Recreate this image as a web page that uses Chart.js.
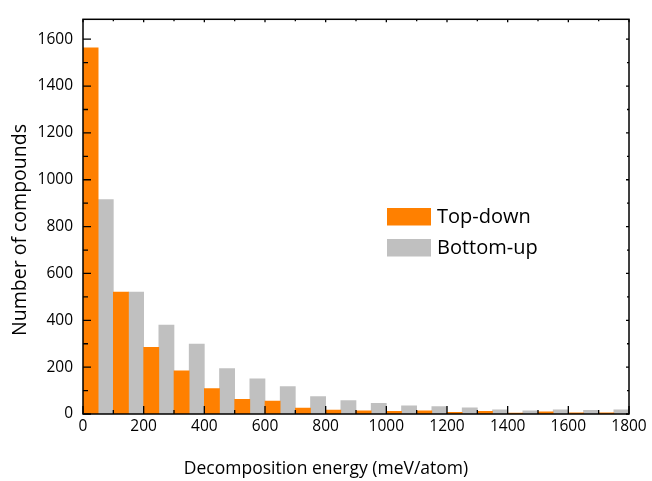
<!DOCTYPE html>
<html>
<head>
<meta charset="utf-8">
<script src="https://cdn.jsdelivr.net/npm/chart.js@4.4.1/dist/chart.umd.min.js"></script>
<style>html,body{margin:0;padding:0;background:#fff}canvas{display:block}</style>
</head>
<body>
<canvas id="chart" width="652" height="481"></canvas>
<script>
// bin centres (meV/atom), 100 meV wide bins
const binCenters=[50,150,250,350,450,550,650,750,850,950,1050,1150,1250,1350,1450,1550,1650,1750];
const topDown=[1563,520,285,184,109,63,55,25,17,14,11,13,7,11,4,9,5,5];
const bottomUp=[915,520,380,298,194,150,117,74,57,46,35,32,26,18,14,18,16,18];
const xTicks=[0,200,400,600,800,1000,1200,1400,1600,1800];
const yTicks=[0,200,400,600,800,1000,1200,1400,1600];
const xTitle='Decomposition energy (meV/atom)';
const yTitle='Number of compounds';
const FONT='"Open Sans", sans-serif';

const frame={id:'frame',afterDatasetsDraw(chart){
  const {ctx,chartArea:a,scales:{x,y}}=chart;
  ctx.save();
  ctx.strokeStyle='#000';ctx.lineWidth=1.5;
  ctx.strokeRect(a.left,a.top,a.right-a.left,a.bottom-a.top);
  ctx.beginPath();
  xTicks.forEach((v,i)=>{
    const px=x.getPixelForValue(v);
    ctx.moveTo(px,a.bottom);ctx.lineTo(px,a.bottom-8);
    ctx.moveTo(px,a.top);ctx.lineTo(px,a.top+3);
    if(i<xTicks.length-1){
      const m=x.getPixelForValue((v+xTicks[i+1])/2);
      ctx.moveTo(m,a.bottom);ctx.lineTo(m,a.bottom-4);
      ctx.moveTo(m,a.top);ctx.lineTo(m,a.top+2);
    }
  });
  yTicks.forEach((v,i)=>{
    const py=y.getPixelForValue(v);
    ctx.moveTo(a.left,py);ctx.lineTo(a.left+8,py);
    ctx.moveTo(a.right,py);ctx.lineTo(a.right-3,py);
    const m=y.getPixelForValue(v+100);
    if(m>a.top){
      ctx.moveTo(a.left,m);ctx.lineTo(a.left+5,m);
      ctx.moveTo(a.right,m);ctx.lineTo(a.right-2,m);
    }
  });
  ctx.lineWidth=1.3;ctx.stroke();
  ctx.restore();
}};

const labels={id:'labels',afterDraw(chart){
  const {ctx}=chart;
  ctx.save();
  ctx.fillStyle='#000';
  ctx.textAlign='center';ctx.textBaseline='middle';
  ctx.font='17.5px '+FONT;
  ctx.fillText(xTitle,chart.width/2,469);
  ctx.font='19.5px '+FONT;
  ctx.translate(20,230);ctx.rotate(-Math.PI/2);
  ctx.fillText(yTitle,0,0);
  ctx.restore();
  // legend
  ctx.save();
  ctx.font='20px '+FONT;ctx.textBaseline='middle';ctx.textAlign='left';
  chart.data.datasets.forEach((ds,i)=>{
    const top=208+i*31;
    ctx.fillStyle=ds.backgroundColor;
    ctx.fillRect(387,top,44,17.5);
    ctx.fillStyle='#000';
    ctx.fillText(ds.label,437,top+9);
  });
  ctx.restore();
}};

const plain=v=>String(v);

new Chart(document.getElementById('chart'),{
  type:'bar',
  data:{datasets:[
    {label:'Top-down',data:topDown.map((v,i)=>({x:binCenters[i],y:v})),backgroundColor:'#ff8000'},
    {label:'Bottom-up',data:bottomUp.map((v,i)=>({x:binCenters[i],y:v})),backgroundColor:'#c0c0c0'}
  ]},
  options:{
    responsive:false,animation:false,
    layout:{padding:{top:12,right:23,left:0,bottom:0}},
    datasets:{bar:{barPercentage:1,categoryPercentage:1,borderWidth:0}},
    plugins:{legend:{display:false},tooltip:{enabled:false}},
    scales:{
      x:{type:'linear',min:0,max:1800,offset:false,
        grid:{display:false,drawTicks:false},border:{display:false},
        ticks:{color:'#000',font:{family:FONT,size:15.5},padding:3,maxRotation:0,callback:plain},
        afterBuildTicks:s=>{s.ticks=xTicks.map(v=>({value:v}));},
        afterFit:s=>{s.height=67;}},
      y:{min:0,max:1685,
        grid:{display:false,drawTicks:false},border:{display:false},
        ticks:{color:'#000',font:{family:FONT,size:15.5},padding:10,callback:plain},
        afterBuildTicks:s=>{s.ticks=yTicks.map(v=>({value:v}));},
        afterFit:s=>{s.width=83;}}
    }
  },
  plugins:[frame,labels]
});
</script>
</body>
</html>
